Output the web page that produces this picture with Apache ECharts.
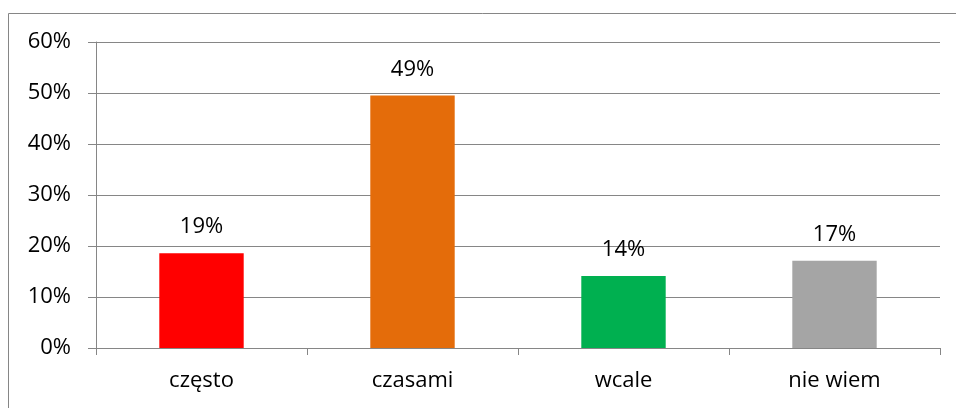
<!DOCTYPE html>
<html>
<head>
<meta charset="utf-8">
<script src="https://cdn.jsdelivr.net/npm/echarts@6/dist/echarts.min.js"></script>
<style>
  html, body { margin: 0; padding: 0; background: #fff; }
  #chart { width: 956px; height: 408px; }
</style>
</head>
<body>
<div id="chart"></div>
<script>
const categories = ['często', 'czasami', 'wcale', 'nie wiem']
const values = [18.6, 49.5, 14.1, 17.1]
const labels = ['19%', '49%', '14%', '17%']
const barColors = ['#FF0000', '#E46C0A', '#00B050', '#A5A5A5']
const yTicks = [0, 10, 20, 30, 40, 50, 60]

const lineColor = '#868686'
const font = 'Open Sans'

const chart = echarts.init(document.getElementById('chart'))
chart.setOption({
  animation: false,
  backgroundColor: '#fff',
  graphic: [{
    type: 'rect',
    shape: { x: 8.5, y: 13.5, width: 980, height: 420 },
    style: { fill: 'none', stroke: lineColor, lineWidth: 1 },
    silent: true
  }],
  grid: { left: 96, right: 16, top: 42, bottom: 60 },
  xAxis: {
    type: 'category',
    data: categories,
    axisLine: { lineStyle: { color: lineColor, width: 1 } },
    axisTick: { show: true, length: 7, lineStyle: { color: lineColor } },
    axisLabel: { color: '#000', fontFamily: font, fontSize: 22, margin: 22 }
  },
  yAxis: {
    type: 'value',
    min: yTicks[0],
    max: yTicks[yTicks.length - 1],
    interval: 10,
    axisLine: { show: true, lineStyle: { color: lineColor, width: 1 } },
    axisTick: { show: true, length: 8, lineStyle: { color: lineColor } },
    splitLine: { show: true, lineStyle: { color: lineColor, width: 1 } },
    axisLabel: {
      color: '#000', fontFamily: font, fontSize: 22, margin: 25,
      formatter: v => v + '%'
    }
  },
  series: [{
    type: 'bar',
    barWidth: '40%',
    data: values.map((v, i) => ({ value: v, itemStyle: { color: barColors[i] } })),
    label: {
      show: true,
      position: 'top',
      distance: 15,
      color: '#000',
      fontFamily: font,
      fontSize: 22,
      formatter: p => labels[p.dataIndex]
    }
  }]
})
</script>
</body>
</html>
